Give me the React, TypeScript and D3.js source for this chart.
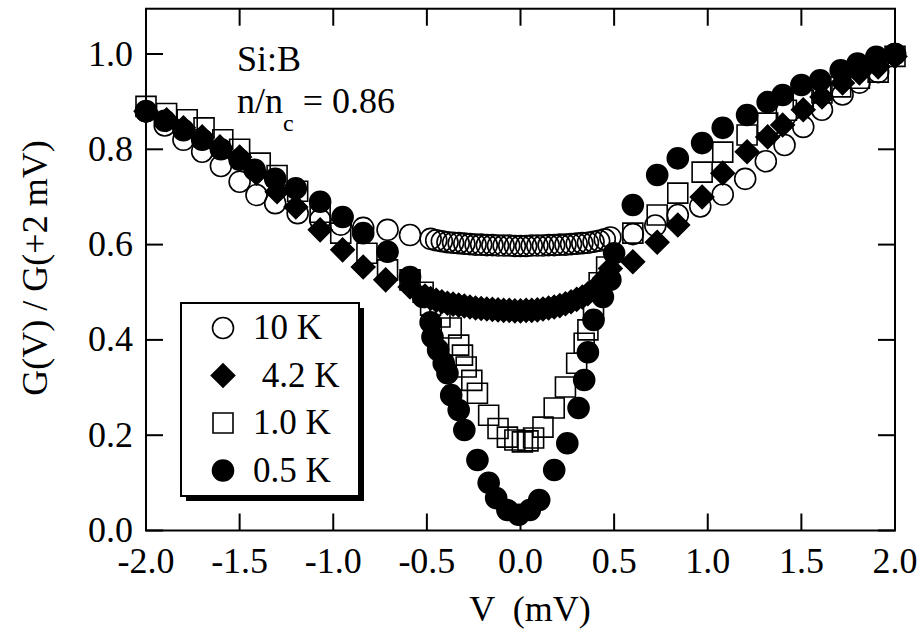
import React from 'react'
import * as d3 from 'd3'

// 10 K  (open circles)
const v10 = [-2.0, -1.9, -1.8, -1.7, -1.6, -1.5, -1.41, -1.31, -1.19, -1.07, -0.96, -0.84, -0.71, -0.59,
  -0.48, -0.45, -0.42, -0.39, -0.36, -0.33, -0.30, -0.27, -0.24, -0.21, -0.18, -0.15, -0.12, -0.09, -0.06, -0.03, 0.0,
  0.03, 0.06, 0.09, 0.12, 0.15, 0.18, 0.21, 0.24, 0.27, 0.30, 0.33, 0.36, 0.39, 0.42, 0.45, 0.48,
  0.60, 0.72, 0.84, 0.96, 1.08, 1.20, 1.31, 1.41, 1.51, 1.61, 1.72, 1.81, 1.91, 2.0]
const g10 = [0.88, 0.85, 0.82, 0.795, 0.765, 0.732, 0.704, 0.687, 0.666, 0.652, 0.642, 0.635, 0.631, 0.62,
  0.612, 0.609, 0.607, 0.605, 0.604, 0.603, 0.602, 0.601, 0.600, 0.600, 0.599, 0.599, 0.598, 0.598, 0.598, 0.597, 0.597,
  0.597, 0.598, 0.598, 0.598, 0.599, 0.599, 0.600, 0.600, 0.601, 0.602, 0.603, 0.604, 0.606, 0.608, 0.611, 0.615,
  0.622, 0.640, 0.662, 0.680, 0.705, 0.738, 0.775, 0.809, 0.847, 0.883, 0.915, 0.940, 0.962, 1.0]

// 4.2 K  (filled diamonds)
const v42 = [-2.0, -1.89, -1.80, -1.70, -1.605, -1.50, -1.41, -1.30, -1.20, -1.07, -0.95, -0.84, -0.72, -0.59,
  -0.51, -0.48, -0.45, -0.42, -0.39, -0.36, -0.33, -0.30, -0.27, -0.24, -0.21, -0.18, -0.15, -0.12, -0.09, -0.06, -0.03,
  0.0, 0.03, 0.06, 0.09, 0.12, 0.15, 0.18, 0.21, 0.24, 0.27, 0.30, 0.33, 0.36, 0.39, 0.42, 0.45, 0.48,
  0.60, 0.73, 0.84, 0.97, 1.08, 1.21, 1.32, 1.40, 1.51, 1.61, 1.72, 1.81, 1.91, 2.0]
const g42 = [0.88, 0.862, 0.845, 0.826, 0.805, 0.784, 0.75, 0.711, 0.679, 0.631, 0.589, 0.553, 0.526, 0.511,
  0.492, 0.487, 0.483, 0.480, 0.477, 0.475, 0.473, 0.471, 0.469, 0.467, 0.466, 0.465, 0.464, 0.463, 0.462, 0.462, 0.461,
  0.461, 0.462, 0.462, 0.463, 0.465, 0.467, 0.469, 0.472, 0.476, 0.480, 0.485, 0.490, 0.497, 0.505, 0.515, 0.530, 0.550,
  0.564, 0.605, 0.641, 0.700, 0.750, 0.795, 0.826, 0.851, 0.883, 0.910, 0.939, 0.960, 0.973, 0.995]

// 1.0 K  (open squares)
const v10k = [-2.0, -1.89, -1.78, -1.69, -1.59, -1.50, -1.39, -1.30, -1.19, -1.07, -0.96, -0.82, -0.71, -0.59, -0.52,
  -0.48, -0.43, -0.37, -0.33, -0.31, -0.29, -0.26, -0.23, -0.17, -0.12, -0.07, -0.03, 0.01, 0.04, 0.07, 0.12, 0.18,
  0.24, 0.30, 0.34, 0.36, 0.39, 0.42, 0.46,
  0.60, 0.73, 0.84, 0.97, 1.08, 1.21, 1.32, 1.42, 1.51, 1.61, 1.71, 1.81, 1.91, 2.0]
const g10k = [0.89, 0.875, 0.862, 0.845, 0.82, 0.80, 0.771, 0.745, 0.712, 0.668, 0.624, 0.582, 0.547, 0.526, 0.50,
  0.473, 0.448, 0.425, 0.389, 0.368, 0.343, 0.315, 0.288, 0.242, 0.214, 0.196, 0.19, 0.186, 0.188, 0.194, 0.217, 0.257,
  0.301, 0.351, 0.393, 0.421, 0.463, 0.52, 0.553,
  0.624, 0.662, 0.708, 0.752, 0.794, 0.830, 0.855, 0.882, 0.903, 0.918, 0.931, 0.949, 0.962, 0.995]

// 0.5 K  (filled circles)
const v05 = [-2.0, -1.9, -1.8, -1.7, -1.6, -1.5, -1.42, -1.31, -1.20, -1.07, -0.95, -0.84, -0.71, -0.59, -0.52,
  -0.48, -0.47, -0.44, -0.41, -0.39, -0.37, -0.33, -0.30, -0.23, -0.17, -0.13, -0.07, -0.01, 0.05, 0.10, 0.18,
  0.25, 0.31, 0.34, 0.36, 0.39, 0.44, 0.48, 0.50,
  0.60, 0.73, 0.84, 0.97, 1.08, 1.21, 1.32, 1.40, 1.50, 1.60, 1.71, 1.80, 1.90, 2.0]
const g05 = [0.88, 0.86, 0.84, 0.82, 0.80, 0.778, 0.757, 0.738, 0.718, 0.690, 0.658, 0.624, 0.585, 0.532, 0.49,
  0.437, 0.406, 0.379, 0.351, 0.330, 0.284, 0.253, 0.211, 0.148, 0.100, 0.068, 0.043, 0.033, 0.043, 0.064, 0.127,
  0.183, 0.257, 0.316, 0.374, 0.442, 0.49, 0.526, 0.582,
  0.683, 0.746, 0.781, 0.813, 0.845, 0.872, 0.899, 0.914, 0.935, 0.945, 0.966, 0.98, 0.994, 1.0]

const xTicks = [-2.0, -1.5, -1.0, -0.5, 0.0, 0.5, 1.0, 1.5, 2.0]
const yTicks = [0.0, 0.2, 0.4, 0.6, 0.8, 1.0]
const legendLabels = ['10 K', ' 4.2 K', '1.0 K', '0.5 K']

const FONT = '"Liberation Serif", "Times New Roman", serif'

const x = d3.scaleLinear().domain([-2, 2]).range([146, 895])
const y = d3.scaleLinear().domain([0, 1]).range([530.5, 54])

const circle = d3.symbol().type(d3.symbolCircle).size(Math.PI * 10.5 * 10.5)()!
const square = d3.symbol().type(d3.symbolSquare).size(20 * 20)()!
const diamond = d3.symbol().type(d3.symbolSquare).size(16.5 * 16.5)()!

type Marker = { path: string; fill: string; rotate: number }
const markers: Marker[] = [
  { path: circle, fill: 'none', rotate: 0 },
  { path: diamond, fill: '#000', rotate: 45 },
  { path: square, fill: 'none', rotate: 0 },
  { path: circle, fill: '#000', rotate: 0 },
]
const series = [
  { v: v10, g: g10 },
  { v: v42, g: g42 },
  { v: v10k, g: g10k },
  { v: v05, g: g05 },
]

export default function App() {
  const left = x(-2), right = x(2), bottom = y(0), top = y(1.095)
  const tick = 17

  return (
    <svg width={924} height={632} style={{ position: 'absolute', left: 0, top: 0, background: '#fff' }}
      fontFamily={FONT}>
      {series.map((s, i) => (
        <g key={i}>
          {s.v.map((v, j) => (
            <path key={j} d={markers[i].path}
              transform={`translate(${x(v)},${y(s.g[j])}) rotate(${markers[i].rotate})`}
              fill={markers[i].fill} stroke="#000" strokeWidth={1.6} />
          ))}
        </g>
      ))}

      {/* frame */}
      <rect x={left} y={top} width={right - left} height={bottom - top} fill="none" stroke="#000" strokeWidth={2} />
      {xTicks.map(t => (
        <g key={'x' + t}>
          <line x1={x(t)} x2={x(t)} y1={bottom} y2={bottom - tick} stroke="#000" strokeWidth={2} />
          <line x1={x(t)} x2={x(t)} y1={top} y2={top + tick} stroke="#000" strokeWidth={2} />
          <text x={x(t)} y={573} fontSize={36} textAnchor="middle">{t.toFixed(1)}</text>
        </g>
      ))}
      {yTicks.map(t => (
        <g key={'y' + t}>
          <line x1={left} x2={left + tick} y1={y(t)} y2={y(t)} stroke="#000" strokeWidth={2} />
          <line x1={right} x2={right - tick} y1={y(t)} y2={y(t)} stroke="#000" strokeWidth={2} />
          <text x={133} y={y(t) + 11.5} fontSize={36} textAnchor="end">{t.toFixed(1)}</text>
        </g>
      ))}

      <text x={530} y={621} fontSize={36} textAnchor="middle" style={{ whiteSpace: 'pre' }}>{'V  (mV)'}</text>
      <text transform="translate(47,268) rotate(-90)" fontSize={36} textAnchor="middle">G(V) / G(+2 mV)</text>

      <text x={237} y={71} fontSize={36}>Si:B</text>
      <text x={237} y={113} fontSize={36} style={{ whiteSpace: 'pre' }}>
        n/n<tspan fontSize={24} dy={18}>c</tspan><tspan dy={-18}>{' = 0.86'}</tspan>
      </text>

      {/* legend */}
      <rect x={186} y={308} width={178} height={193} fill="#000" />
      <rect x={181} y={303} width={178} height={193} fill="#fff" stroke="#000" strokeWidth={2} />
      {legendLabels.map((lab, i) => {
        const ly = 328 + i * 47.5
        return (
          <g key={lab}>
            <path d={markers[i].path} transform={`translate(223,${ly}) rotate(${markers[i].rotate})`}
              fill={markers[i].fill} stroke="#000" strokeWidth={1.6} />
            <text x={253} y={ly + 11} fontSize={35} style={{ whiteSpace: 'pre' }}>{lab}</text>
          </g>
        )
      })}
    </svg>
  )
}
